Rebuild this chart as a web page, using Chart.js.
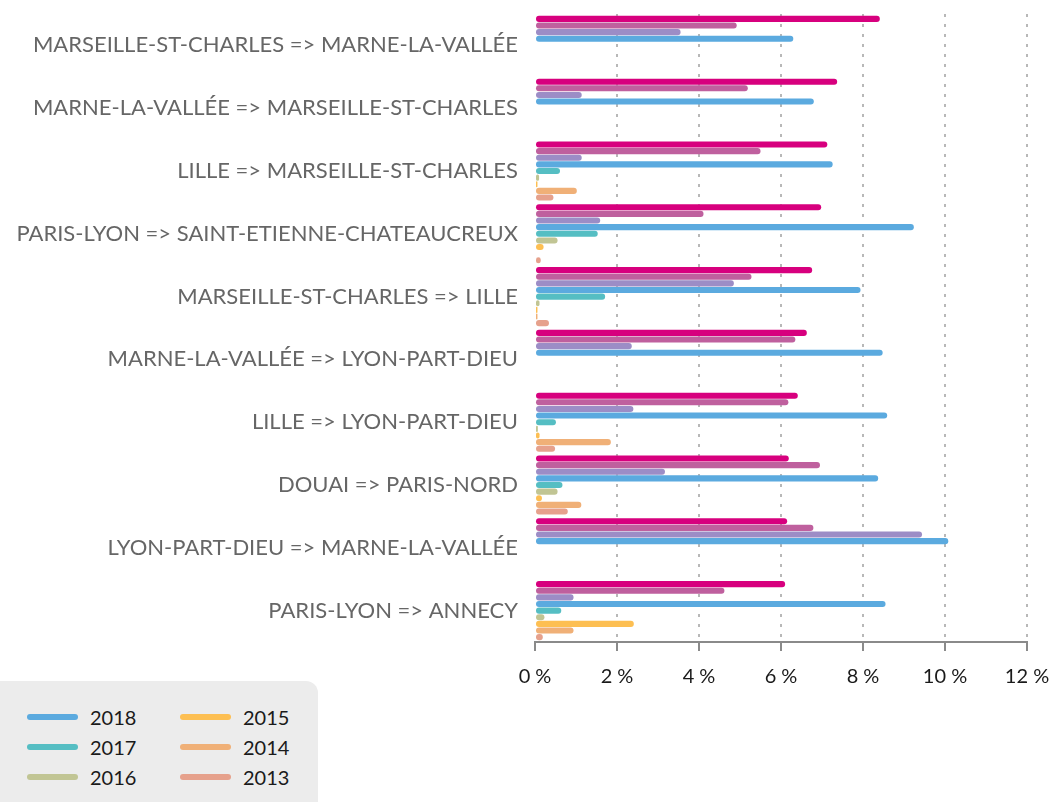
<!DOCTYPE html>
<html>
<head>
<meta charset="utf-8">
<script src="https://cdn.jsdelivr.net/npm/chart.js@4/dist/chart.umd.min.js"></script>
<style>
    html, body { margin: 0; padding: 0; background: #fff; overflow: hidden; }
    #wrap { position: relative; width: 1052px; height: 802px; }
    #chartBox { position: absolute; left: 0; top: 0; }
    #legend {
        position: absolute; left: 0; top: 681px; width: 318px; height: 140px;
        background: #ececec; border-top-right-radius: 12px;
        font-family: Lato, sans-serif; font-size: 20px; color: #1a1a1a;
    }
    .item { position: absolute; display: flex; align-items: center; height: 24px; }
    .swatch { width: 51px; height: 6px; border-radius: 3px; margin-right: 12px; }
</style>
</head>
<body>
<div id="wrap">
    <canvas id="chartBox" width="1052" height="703"></canvas>
    <div id="legend"></div>
</div>
<script>
const categories = [
    'MARSEILLE-ST-CHARLES => MARNE-LA-VALLÉE',
    'MARNE-LA-VALLÉE => MARSEILLE-ST-CHARLES',
    'LILLE => MARSEILLE-ST-CHARLES',
    'PARIS-LYON => SAINT-ETIENNE-CHATEAUCREUX',
    'MARSEILLE-ST-CHARLES => LILLE',
    'MARNE-LA-VALLÉE => LYON-PART-DIEU',
    'LILLE => LYON-PART-DIEU',
    'DOUAI => PARIS-NORD',
    'LYON-PART-DIEU => MARNE-LA-VALLÉE',
    'PARIS-LYON => ANNECY'
];

// valeurs en % par année (null = pas de donnée)
const y2021 = [8.41, 7.37, 7.13, 6.98, 6.76, 6.63, 6.41, 6.19, 6.15, 6.10];
const y2020 = [4.92, 5.19, 5.50, 4.11, 5.28, 6.35, 6.18, 6.95, 6.79, 4.62];
const y2019 = [3.55, 1.14, 1.14, 1.59, 4.85, 2.36, 2.40, 3.17, 9.44, 0.94];
const y2018 = [6.30, 6.80, 7.26, 9.24, 7.94, 8.48, 8.59, 8.37, 10.08, 8.55];
const y2017 = [null, null, 0.61, 1.53, 1.71, null, 0.51, 0.67, null, 0.64];
const y2016 = [null, null, 0.10, 0.55, 0.11, null, 0.07, 0.55, null, 0.23];
const y2015 = [null, null, 0.06, 0.21, 0.06, null, 0.11, 0.17, null, 2.41];
const y2014 = [null, null, 1.02, null, 0.06, null, 1.85, 1.13, null, 0.94];
const y2013 = [null, null, 0.45, 0.14, 0.34, null, 0.49, 0.80, null, 0.19];

const xTicks = [0, 2, 4, 6, 8, 10, 12];

const series = [
    { label: '2021', data: y2021, color: '#d7007e', inLegend: false },
    { label: '2020', data: y2020, color: '#bf609e', inLegend: false },
    { label: '2019', data: y2019, color: '#9c8dc6', inLegend: false },
    { label: '2018', data: y2018, color: '#5baadf', inLegend: true },
    { label: '2017', data: y2017, color: '#55bec3', inLegend: true },
    { label: '2016', data: y2016, color: '#c1c594', inLegend: true },
    { label: '2015', data: y2015, color: '#fdbf52', inLegend: true },
    { label: '2014', data: y2014, color: '#f0b077', inLegend: true },
    { label: '2013', data: y2013, color: '#e6a18c', inLegend: true }
];

const FONT = 'Lato, sans-serif';

// on enlève les marges automatiques des axes pour caler la zone du graphe
function noAutoPadding(scale) {
    scale.paddingTop = 0;
    scale.paddingBottom = 0;
    scale.paddingLeft = 0;
    scale.paddingRight = 0;
}

new Chart(document.getElementById('chartBox'), {
    type: 'bar',
    data: {
        labels: categories,
        datasets: series.map(s => ({
            label: s.label,
            data: s.data,
            backgroundColor: s.color,
            borderRadius: 3,
            borderSkipped: false,
            barPercentage: 0.92,
            categoryPercentage: 0.95
        }))
    },
    options: {
        indexAxis: 'y',
        responsive: false,
        animation: false,
        layout: { padding: { top: 14, right: 25, bottom: 0, left: 0 } },
        plugins: {
            legend: { display: false },
            tooltip: { enabled: false }
        },
        scales: {
            x: {
                min: 0,
                max: 12,
                afterBuildTicks: (scale) => { scale.ticks = xTicks.map(v => ({ value: v })); },
                afterFit: noAutoPadding,
                ticks: {
                    font: { family: FONT, size: 20 },
                    color: '#1a1a1a',
                    padding: 14,
                    callback: (v) => v + ' %'
                },
                grid: {
                    color: (ctx) => ctx.tick && ctx.tick.value === 0 ? 'rgba(0,0,0,0)' : '#b8b8b8',
                    lineWidth: 2,
                    drawTicks: true,
                    tickLength: 9,
                    tickColor: '#8a8a8a',
                    tickWidth: 2,
                    tickBorderDash: []
                },
                border: { display: true, color: '#8a8a8a', width: 2, dash: [3, 7] }
            },
            y: {
                afterFit: (scale) => { noAutoPadding(scale); scale.width = 535; },
                ticks: {
                    font: { family: FONT, size: 22 },
                    color: '#666666',
                    padding: 17
                },
                grid: { display: false, drawTicks: false },
                border: { display: false }
            }
        }
    }
});

// légende HTML (deux colonnes)
const legendBox = document.getElementById('legend');
series.filter(s => s.inLegend).forEach((s, i) => {
    const col = Math.floor(i / 3), row = i % 3;
    const el = document.createElement('div');
    el.className = 'item';
    el.style.left = (27 + col * 153) + 'px';
    el.style.top = (24 + row * 30) + 'px';
    el.innerHTML = '<span class="swatch" style="background:' + s.color + '"></span><span>' + s.label + '</span>';
    legendBox.appendChild(el);
});
</script>
</body>
</html>
